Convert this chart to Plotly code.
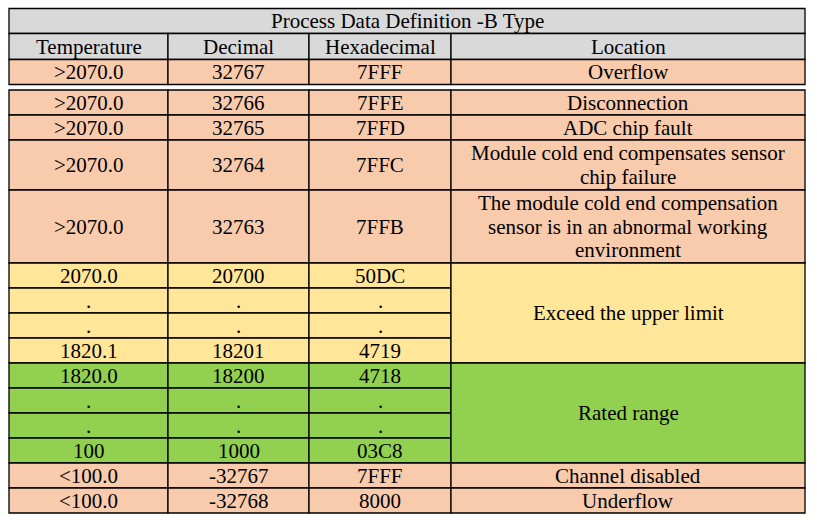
import plotly.graph_objs as go


title = "Process Data Definition -B Type"
headers = ["Temperature", "Decimal", "Hexadecimal", "Location"]

temperature = [">2070.0", ">2070.0", ">2070.0", ">2070.0", ">2070.0",
               "2070.0", ".", ".", "1820.1",
               "1820.0", ".", ".", "100",
               "<100.0", "<100.0"]
decimal = ["32767", "32766", "32765", "32764", "32763",
           "20700", ".", ".", "18201",
           "18200", ".", ".", "1000",
           "-32767", "-32768"]
hexadecimal = ["7FFF", "7FFE", "7FFD", "7FFC", "7FFB",
               "50DC", ".", ".", "4719",
               "4718", ".", ".", "03C8",
               "7FFF", "8000"]
location = ["Overflow", "Disconnection", "ADC chip fault",
            "Module cold end compensates sensor\nchip failure",
            "The module cold end compensation\nsensor is in an abnormal working\nenvironment",
            "Exceed the upper limit", "Rated range",
            "Channel disabled", "Underflow"]
location_span = [1, 1, 1, 1, 1, 4, 4, 1, 1]
row_group = ["fault"] * 5 + ["upper"] * 4 + ["rated"] * 4 + ["fault"] * 2

# layout / styling
W, H = 817, 527
col_edges = [9, 168, 309, 451, 805]
title_top, title_h, header_h = 8.5, 25, 26
first_row_h, gap = 25, 5.5
row_h = [25, 25, 50, 73, 25, 25, 25, 25, 25, 25, 25, 25, 25, 25]
group_color = {"fault": "#F8CBAD", "upper": "#FFE699", "rated": "#92D050"}
head_color = "#D9D9D9"
font = dict(family="Liberation Serif, Times New Roman, serif", size=21, color="black")
line_step = 23.5

shapes = []
annotations = []


def cell(x0, x1, y0, y1, fill, text):
    shapes.append(dict(type="rect", xref="x", yref="y", x0=x0, x1=x1, y0=y0, y1=y1,
                       fillcolor=fill, line=dict(color="black", width=1.3), layer="below"))
    lines = text.split("\n")
    mid = (y0 + y1) / 2
    for i, ln in enumerate(lines):
        yy = mid + (i - (len(lines) - 1) / 2) * line_step
        annotations.append(dict(x=(x0 + x1) / 2, y=yy, xref="x", yref="y", text=ln,
                                showarrow=False, font=font, xanchor="center", yanchor="middle"))


# title + header
y = title_top
cell(col_edges[0], col_edges[-1], y, y + title_h, head_color, title)
y += title_h
for c, h in enumerate(headers):
    cell(col_edges[c], col_edges[c + 1], y, y + header_h, head_color, h)
y += header_h

# row edges (first row is separate, then a small gap)
edges = [y, y + first_row_h]
y = y + first_row_h + gap
for h in row_h:
    edges.append(y)
    y += h
edges.append(y)
tops = [edges[0]] + edges[2:-1]
bots = [edges[1]] + edges[3:]

for i in range(len(temperature)):
    fill = group_color[row_group[i]]
    for c, col in enumerate([temperature, decimal, hexadecimal]):
        cell(col_edges[c], col_edges[c + 1], tops[i], bots[i], fill, col[i])

r = 0
for txt, span in zip(location, location_span):
    cell(col_edges[3], col_edges[4], tops[r], bots[r + span - 1], group_color[row_group[r]], txt)
    r += span

fig = go.Figure()
fig.update_layout(
    width=W, height=H, autosize=False,
    margin=dict(l=0, r=0, t=0, b=0),
    paper_bgcolor="white", plot_bgcolor="white",
    xaxis=dict(range=[0, W], visible=False, fixedrange=True),
    yaxis=dict(range=[H, 0], visible=False, fixedrange=True),
    shapes=shapes, annotations=annotations, showlegend=False,
)
fig.write_html("out.html", config=dict(displayModeBar=False),
               post_script="document.body.style.margin='0px';document.body.style.overflow='hidden';")
